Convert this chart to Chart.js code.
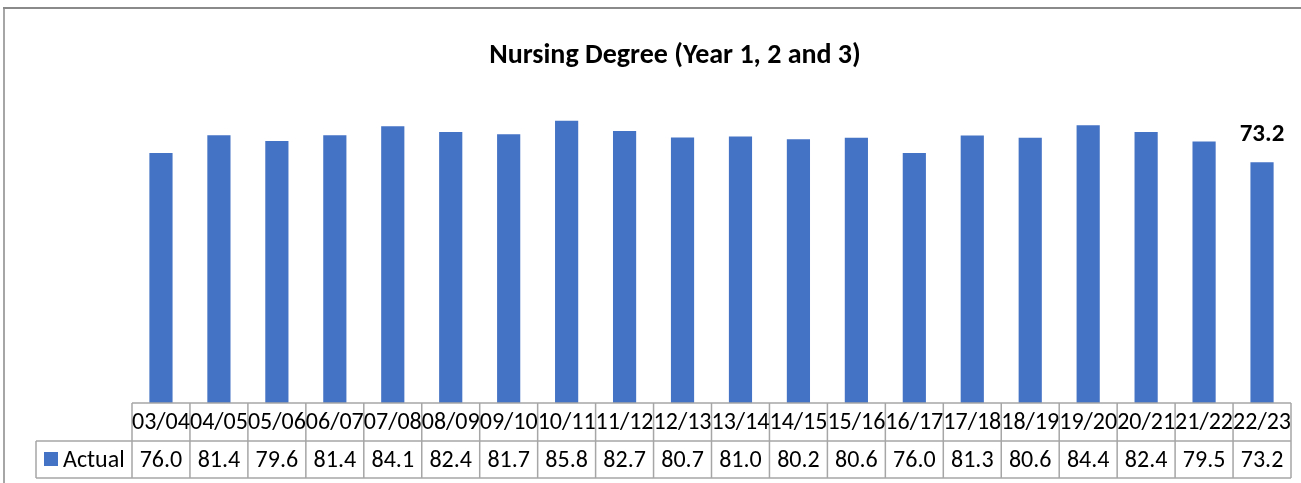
<!DOCTYPE html>
<html>
<head>
<meta charset="utf-8">
<script src="https://cdn.jsdelivr.net/npm/chart.js@4/dist/chart.umd.min.js"></script>
<style>
	body { margin: 0; background: #fff; }
	canvas { display: block; }
</style>
</head>
<body>
<canvas id="bargraph" width="1301" height="483"></canvas>
<script>
// chart data
var years = ["03/04", "04/05", "05/06", "06/07", "07/08", "08/09", "09/10", "10/11", "11/12", "12/13",
	"13/14", "14/15", "15/16", "16/17", "17/18", "18/19", "19/20", "20/21", "21/22", "22/23"];
var actual = [76.0, 81.4, 79.6, 81.4, 84.1, 82.4, 81.7, 85.8, 82.7, 80.7,
	81.0, 80.2, 80.6, 76.0, 81.3, 80.6, 84.4, 82.4, 79.5, 73.2];
var seriesName = "Actual";
var chartTitle = "Nursing Degree (Year 1, 2 and 3)";

var FONT = "Carlito, Calibri, 'Open Sans', sans-serif";
var barColor = '#4472C4';
var lineColor = '#a6a6a6';

// title, last value label, data table under the bars
var tablePlugin = {
	id: 'dataTable',
	afterDraw: function(chart) {
		var ctx = chart.ctx;
		var area = chart.chartArea;
		var x = chart.scales.x;
		var n = years.length;
		var half = (x.getPixelForValue(1) - x.getPixelForValue(0)) / 2;
		var left = x.getPixelForValue(0) - half;
		var right = x.getPixelForValue(n - 1) + half;
		var top = area.bottom;
		var mid = top + 38;
		var bottom = mid + 37;
		var legLeft = 36;

		ctx.save();

		// outer chart border
		ctx.strokeStyle = '#a6a6a6';
		ctx.lineWidth = 2;
		ctx.beginPath();
		ctx.moveTo(4, 490);
		ctx.lineTo(4, 8);
		ctx.stroke();
		ctx.strokeStyle = '#8a8a8a';
		ctx.beginPath();
		ctx.moveTo(3, 8);
		ctx.lineTo(1301, 8);
		ctx.stroke();

		// title
		ctx.fillStyle = '#000';
		ctx.font = "bold 28px " + FONT;
		ctx.textAlign = 'center';
		ctx.textBaseline = 'middle';
		ctx.fillText(chartTitle, 675, 56);

		// label above last bar
		var meta = chart.getDatasetMeta(0);
		var last = meta.data[n - 1];
		ctx.font = "bold 25px " + FONT;
		ctx.textBaseline = 'bottom';
		ctx.fillText(actual[n - 1].toFixed(1), last.x, last.y - 15);

		// table grid
		ctx.strokeStyle = lineColor;
		ctx.lineWidth = 1.5;
		ctx.beginPath();
		ctx.moveTo(left, top); ctx.lineTo(right, top);
		ctx.moveTo(legLeft, mid); ctx.lineTo(right, mid);
		ctx.moveTo(legLeft, bottom); ctx.lineTo(right, bottom);
		ctx.moveTo(legLeft, mid); ctx.lineTo(legLeft, bottom);
		for (var i = 0; i <= n; i++) {
			var gx = (i < n) ? x.getPixelForValue(i) - half : right;
			ctx.moveTo(gx, top);
			ctx.lineTo(gx, bottom);
		}
		ctx.stroke();

		// header and values
		ctx.fillStyle = '#000';
		ctx.font = "24px " + FONT;
		ctx.textBaseline = 'middle';
		for (var j = 0; j < n; j++) {
			var cx = x.getPixelForValue(j);
			ctx.fillText(years[j], cx, (top + mid) / 2 + 1);
			ctx.fillText(actual[j].toFixed(1), cx, (mid + bottom) / 2 + 1);
		}

		// legend key
		ctx.fillStyle = barColor;
		ctx.fillRect(44, mid + 11, 14, 14);
		ctx.fillStyle = '#000';
		ctx.textAlign = 'left';
		ctx.fillText(seriesName, 63, (mid + bottom) / 2 + 1);

		ctx.restore();
	}
};

var chartdata = {
	labels: years,
	datasets: [
		{
			label: seriesName,
			backgroundColor: barColor,
			data: actual,
			categoryPercentage: 1,
			barPercentage: 0.4
		}
	]
};

var ctx = document.getElementById('bargraph');

var barGraph = new Chart(ctx, {
	type: 'bar',
	data: chartdata,
	options: {
		responsive: false,
		animation: false,
		layout: {
			padding: { left: 132, right: 10, top: 74, bottom: 80 }
		},
		scales: {
			x: { display: false },
			y: { display: false, min: 0, max: 100 }
		},
		plugins: {
			legend: { display: false },
			title: { display: false },
			tooltip: { enabled: false }
		}
	},
	plugins: [tablePlugin]
});
</script>
</body>
</html>
